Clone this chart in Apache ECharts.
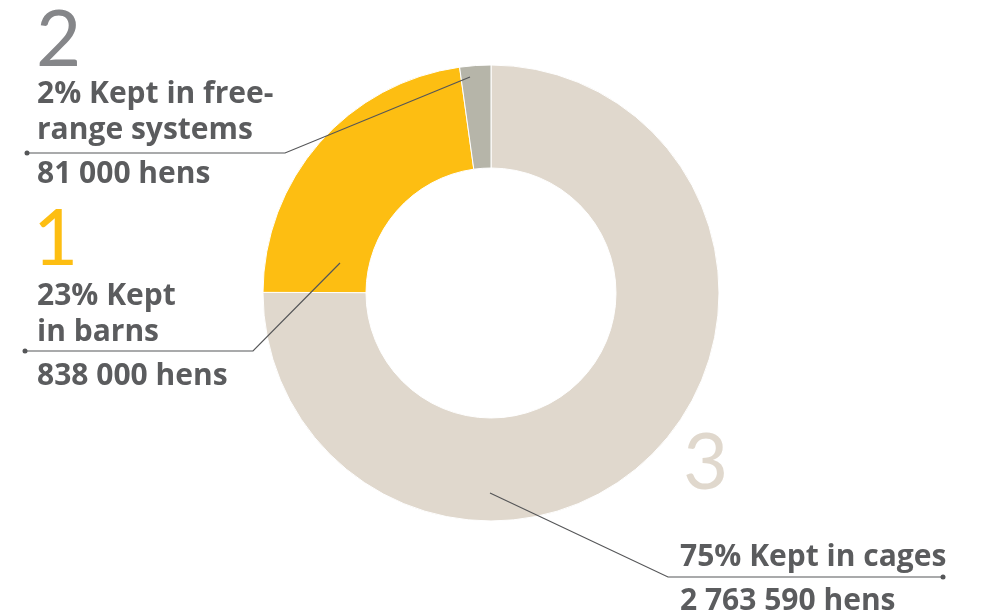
<!DOCTYPE html>
<html>
<head>
<meta charset="utf-8">
<title>Laying hens by housing system</title>
<script src="https://cdn.jsdelivr.net/npm/echarts@6/dist/echarts.min.js"></script>
<style>
  html, body { margin: 0; padding: 0; background: #ffffff; }
  #chart { width: 985px; height: 614px; }
</style>
</head>
<body>
<div id="chart"></div>
<script>
// Housing systems, in clockwise order from 12 o'clock
const systems = ['Kept in cages', 'Kept in barns', 'Kept in free-range systems'];
const hens = [2763590, 838000, 81000];
const percents = [75, 23, 2];
const ranks = ['3', '1', '2'];
// Label text split into lines as it is set on the page
const labelLines = [
  ['75% Kept in cages'],
  ['23% Kept', 'in barns'],
  ['2% Kept in free-', 'range systems']
];

const colors = ['#e0d8cd', '#fdbe12', '#b6b5a9'];
const rankColors = ['#e0d8cd', '#fdbe12', '#858689'];
const textColor = '#5b5c5e';
const lineColor = '#555658';
const textFont = '"Open Sans", Lato, sans-serif';
const rankFont = 'Lato, "Open Sans", sans-serif';

// Placement of each label block, its leader line and its rank numeral (pixels)
const labelPos = [
  { x: 680, y: 539, line: [[490, 493], [668, 577], [943, 577]], dot: [943, 577], rank: [683, 425] },
  { x: 37, y: 278, line: [[340, 263], [253, 351], [25, 351]], dot: [25, 351], rank: [33, 201] },
  { x: 37, y: 76, line: [[470, 77], [285, 153], [27, 153]], dot: [27, 153], rank: [36, 2] }
];

function fmtHens(n) {
  return String(n).replace(/\B(?=(\d{3})+(?!\d))/g, ' ') + ' hens';
}

const seriesData = systems.map((name, i) => ({
  name: name,
  value: hens[i],
  itemStyle: { color: colors[i] }
}));

const chart = echarts.init(document.getElementById('chart'), null, { renderer: 'canvas' });

const graphics = [];
ranks.forEach((r, i) => {
  graphics.push({
    type: 'text',
    left: labelPos[i].rank[0],
    top: labelPos[i].rank[1],
    z: 100,
    style: { text: r, fill: rankColors[i], font: '400 78px ' + rankFont }
  });
});
labelPos.forEach(p => {
  graphics.push({
    type: 'polyline',
    z: 100,
    shape: { points: p.line },
    style: { stroke: lineColor, lineWidth: 1.2, fill: null }
  });
  graphics.push({
    type: 'circle',
    z: 101,
    shape: { cx: p.dot[0], cy: p.dot[1], r: 2.5 },
    style: { fill: lineColor }
  });
});

chart.setOption({
  backgroundColor: '#ffffff',
  animation: false,
  graphic: graphics,
  series: [{
    type: 'pie',
    center: [491, 293],
    radius: [125, 228],
    startAngle: 90,
    clockwise: true,
    avoidLabelOverlap: false,
    minShowLabelAngle: 0,
    itemStyle: { borderColor: '#ffffff', borderWidth: 1 },
    emphasis: { disabled: true },
    label: {
      show: true,
      position: 'outside',
      align: 'left',
      verticalAlign: 'top',
      formatter: p => {
        const i = p.dataIndex;
        return labelLines[i].map(l => '{t|' + l + '}').join('\n') + '\n{h|' + fmtHens(hens[i]) + '}';
      },
      rich: {
        t: { fontFamily: textFont, fontWeight: 'bold', fontSize: 30, color: textColor, lineHeight: 36 },
        h: { fontFamily: textFont, fontWeight: 'bold', fontSize: 30, color: textColor, lineHeight: 52 }
      }
    },
    labelLine: { show: false },
    labelLayout: params => {
      const p = labelPos[params.dataIndex];
      return { x: p.x, y: p.y, align: 'left', verticalAlign: 'top' };
    },
    data: seriesData
  }]
});
</script>
</body>
</html>
